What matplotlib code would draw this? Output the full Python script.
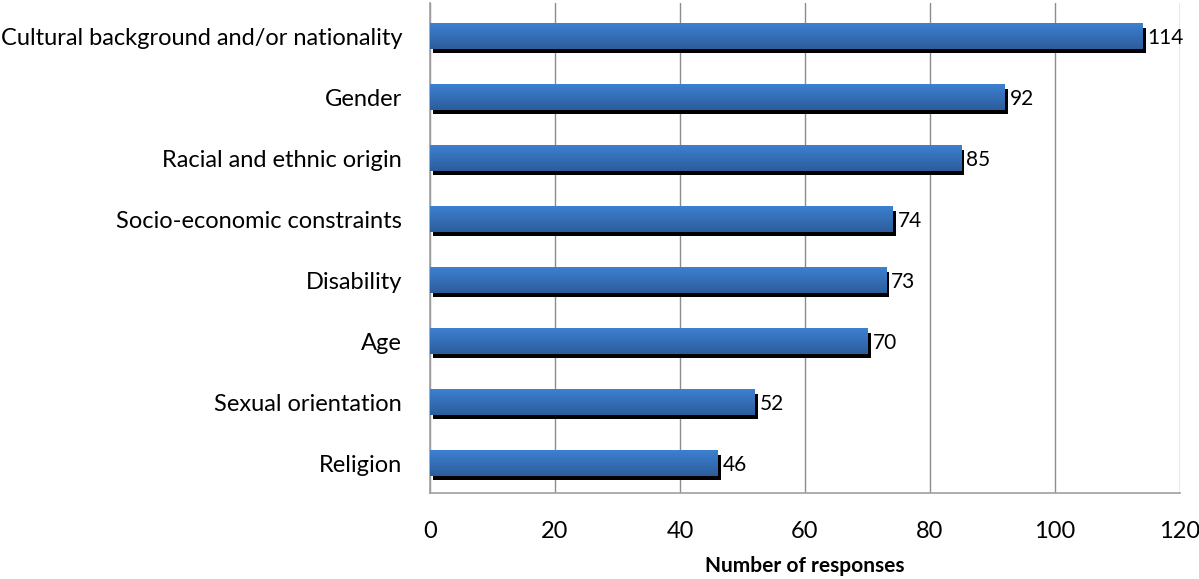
import numpy as np
import matplotlib
matplotlib.use("Agg")
import matplotlib.pyplot as plt

categories = ["Cultural background and/or nationality", "Gender", "Racial and ethnic origin",
              "Socio-economic constraints", "Disability", "Age", "Sexual orientation", "Religion"]
responses = [114, 92, 85, 74, 73, 70, 52, 46]

plt.rcParams['font.family'] = ['Lato', 'DejaVu Sans']

fig = plt.figure(figsize=(11.99, 5.79), dpi=100)
ax = fig.add_axes([0.3586, 0.1485, 0.6255, 0.8465])

y = np.arange(len(categories))[::-1]
h = 0.42

# black drop shadow under each bar
ax.barh(y - 0.07, responses, height=h, left=0.5, color='black', zorder=2)
bars = ax.barh(y, responses, height=h, color='none', zorder=3)

# vertical blue gradient inside each bar, lighter on top
grad = np.linspace(0, 1, 64).reshape(-1, 1)
cmap = matplotlib.colors.LinearSegmentedColormap.from_list("bar", ["#2c5d9c", "#3d80d0"])
for b in bars:
    x0, y0 = b.get_x(), b.get_y()
    w, hh = b.get_width(), b.get_height()
    ax.imshow(grad, extent=[x0, x0 + w, y0 + hh, y0], aspect='auto', cmap=cmap,
              origin='upper', zorder=3)

for yi, v in zip(y, responses):
    ax.text(v + 0.8, yi - 0.03, str(v), va='center', ha='left', fontsize=15, zorder=4)

ax.set_xlim(0, 120)
ax.set_ylim(-0.49, len(categories) - 0.45)
ax.set_xticks(range(0, 121, 20))
ax.set_yticks(y)
ax.set_yticklabels(categories)
ax.tick_params(axis='both', length=0, labelsize=17)
ax.tick_params(axis='y', pad=20)
ax.tick_params(axis='x', pad=20)
ax.xaxis.grid(True, color='#8c8c8c', linewidth=1, zorder=0)
ax.set_axisbelow(True)
for s in ['top', 'right']:
    ax.spines[s].set_visible(False)
for s in ['left', 'bottom']:
    ax.spines[s].set_color('#a0a0a0')
    ax.spines[s].set_linewidth(1.2)
ax.set_xlabel("Number of responses", fontsize=15, fontweight='bold', labelpad=10)

fig.savefig("out.png", dpi=100)
